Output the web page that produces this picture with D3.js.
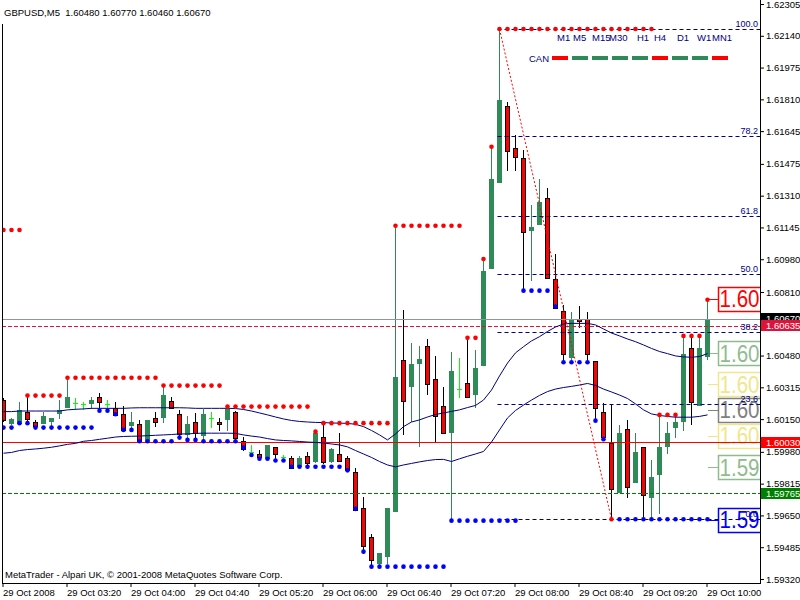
<!DOCTYPE html>
<html><head><meta charset="utf-8">
<script src="https://cdn.jsdelivr.net/npm/d3@7"></script>
<style>
html,body{margin:0;padding:0;background:#fff;}
svg{display:block;font-family:"Liberation Sans",Arial,sans-serif;}
</style></head><body>
<svg id="c" width="800" height="600"></svg>
<script>
// ---------- DATA ----------
const symbolTitle = "GBPUSD,M5  1.60480 1.60770 1.60460 1.60670";
const copyright = "MetaTrader - Alpari UK, \u00a9 2001-2008 MetaQuotes Software Corp.";
const tickBars = [0, 8, 16, 24, 32, 40, 48, 56, 64, 72, 80, 88];
const tickLabels = ["29 Oct 2008","29 Oct 03:20","29 Oct 04:00","29 Oct 04:40","29 Oct 05:20","29 Oct 06:00","29 Oct 06:40","29 Oct 07:20","29 Oct 08:00","29 Oct 08:40","29 Oct 09:20","29 Oct 10:00"];
const priceTicks = [1.62305,1.62140,1.61975,1.61810,1.61645,1.61475,1.61310,1.61145,1.60980,1.60810,1.60480,1.60315,1.60150,1.59980,1.59815,1.59650,1.59485,1.59320];

const open = [1.60249,1.60132,1.60129,1.60189,1.60134,1.60132,1.60142,1.60184,1.60215,1.60232,
1.60227,1.60235,1.60263,1.60227,1.60206,1.60175,1.60120,1.60125,1.60042,1.60154,
1.60163,1.60246,1.60175,1.60071,1.60134,1.60068,1.60158,1.60134,1.60151,1.60186,
1.60037,1.59981,1.59969,1.59947,1.60004,1.59955,1.59947,1.59907,1.59959,1.59931,
1.60056,1.59931,1.59969,1.59947,1.59874,1.59687,1.59537,1.59405,1.59441,1.59675,
1.60457,1.60322,1.60443,1.60530,1.60358,1.60218,1.60085,1.60306,1.60336,1.60281,
1.60431,1.60936,1.61383,1.61775,1.61559,1.61504,1.61132,1.61163,1.61296,1.60876,
1.60713,1.60474,1.60668,1.60668,1.60453,1.60186,1.60025,1.59773,1.60097,1.59825,
1.60004,1.59744,1.59864,1.60013,1.60108,1.60142,1.60518,1.60223,1.60480];
const high = [1.60260,1.60156,1.60239,1.60272,1.60146,1.60189,1.60158,1.60249,1.60365,1.60261,
1.60241,1.60267,1.60287,1.60249,1.60237,1.60218,1.60186,1.60146,1.60146,1.60186,
1.60324,1.60263,1.60198,1.60166,1.60180,1.60201,1.60189,1.60158,1.60215,1.60192,
1.60059,1.60016,1.59990,1.60016,1.60004,1.59964,1.59959,1.59959,1.59979,1.60085,
1.60129,1.60000,1.60077,1.59959,1.59895,1.59747,1.59554,1.59456,1.59690,1.61154,
1.60717,1.60547,1.60530,1.60566,1.60478,1.60316,1.60500,1.60466,1.60572,1.60509,
1.60981,1.61564,1.62175,1.61798,1.61625,1.61547,1.61262,1.61395,1.61348,1.61007,
1.60742,1.60705,1.60739,1.60705,1.60453,1.60232,1.60228,1.60120,1.60146,1.60080,
1.60004,1.59938,1.60172,1.60137,1.60172,1.60582,1.60582,1.60582,1.60770];
const low = [1.60140,1.60125,1.60129,1.60129,1.60106,1.60129,1.60116,1.60154,1.60215,1.60203,
1.60203,1.60206,1.60206,1.60206,1.60172,1.60089,1.60111,1.60033,1.60037,1.60116,
1.60134,1.60206,1.60054,1.60051,1.60051,1.60035,1.60108,1.60094,1.60094,1.60035,
1.59990,1.59981,1.59955,1.59947,1.59948,1.59944,1.59895,1.59903,1.59907,1.59929,
1.59924,1.59929,1.59931,1.59886,1.59678,1.59454,1.59384,1.59393,1.59405,1.59675,
1.60073,1.60142,1.60011,1.60281,1.60033,1.60077,1.59623,1.60263,1.60263,1.60215,
1.60431,1.60936,1.61383,1.61443,1.61443,1.60817,1.60872,1.61163,1.60884,1.60726,
1.60457,1.60461,1.60627,1.60463,1.60146,1.60046,1.59630,1.59773,1.59744,1.59825,
1.59635,1.59635,1.59661,1.59972,1.60059,1.60094,1.60125,1.60223,1.60460];
const close = [1.60146,1.60149,1.60198,1.60151,1.60116,1.60166,1.60158,1.60198,1.60267,1.60232,
1.60227,1.60249,1.60237,1.60227,1.60172,1.60094,1.60134,1.60037,1.60146,1.60134,
1.60275,1.60206,1.60071,1.60125,1.60077,1.60177,1.60158,1.60123,1.60203,1.60054,
1.59995,1.59981,1.59955,1.60016,1.59969,1.59955,1.59895,1.59947,1.59924,1.60080,
1.59926,1.59995,1.59931,1.59886,1.59678,1.59493,1.59419,1.59454,1.59690,1.60370,
1.60246,1.60436,1.60461,1.60333,1.60166,1.60077,1.60400,1.60306,1.60263,1.60415,
1.60919,1.61397,1.61807,1.61544,1.61513,1.61123,1.61146,1.61276,1.60884,1.60726,
1.60490,1.60664,1.60661,1.60490,1.60206,1.60057,1.59786,1.60077,1.59796,1.59981,
1.59756,1.59851,1.60004,1.60080,1.60134,1.60490,1.60237,1.60518,1.60670];

// moving averages (navy lines)
const maUpper = [1.60189,1.60189,1.60192,1.60192,1.60192,1.60192,1.60192,1.60192,1.60198,1.60201,
1.60203,1.60206,1.60206,1.60206,1.60206,1.60206,1.60208,1.60209,1.60209,1.60209,
1.60209,1.60209,1.60209,1.60208,1.60206,1.60206,1.60206,1.60206,1.60206,1.60205,
1.60200,1.60192,1.60182,1.60172,1.60161,1.60151,1.60143,1.60138,1.60135,1.60133,
1.60132,1.60130,1.60129,1.60128,1.60123,1.60111,1.60091,1.60068,1.60042,1.60073,
1.60111,1.60135,1.60146,1.60161,1.60174,1.60182,1.60190,1.60198,1.60210,1.60221,
1.60249,1.60301,1.60374,1.60441,1.60494,1.60526,1.60556,1.60578,1.60605,1.60628,
1.60644,1.60647,1.60647,1.60647,1.60639,1.60618,1.60597,1.60582,1.60566,1.60552,
1.60535,1.60517,1.60501,1.60490,1.60478,1.60473,1.60471,1.60475,1.60490];
const maLower = [1.59973,1.59977,1.59987,1.59992,1.59995,1.59999,1.60004,1.60011,1.60019,1.60024,
1.60035,1.60039,1.60045,1.60051,1.60057,1.60060,1.60061,1.60062,1.60064,1.60066,
1.60068,1.60070,1.60073,1.60073,1.60076,1.60077,1.60077,1.60077,1.60077,1.60076,
1.60068,1.60062,1.60057,1.60049,1.60042,1.60039,1.60037,1.60034,1.60031,1.60029,
1.60026,1.60021,1.60016,1.60006,1.59987,1.59969,1.59951,1.59930,1.59912,1.59902,
1.59912,1.59920,1.59928,1.59935,1.59940,1.59941,1.59930,1.59944,1.59957,1.59969,
1.59982,1.60031,1.60094,1.60156,1.60195,1.60223,1.60249,1.60273,1.60293,1.60306,
1.60314,1.60320,1.60327,1.60335,1.60325,1.60306,1.60291,1.60275,1.60257,1.60229,
1.60198,1.60177,1.60169,1.60164,1.60160,1.60160,1.60160,1.60164,1.60172];

// resistance (red) and support (blue) dots, one per bar
const resistDots = [1.61132,1.61132,1.61132,1.60272,1.60272,1.60272,1.60272,1.60272,
1.60365,1.60365,1.60365,1.60365,1.60365,1.60365,1.60365,1.60365,1.60365,1.60365,1.60365,1.60365,
1.60324,1.60324,1.60324,1.60324,1.60324,1.60324,1.60324,1.60324,
1.60215,1.60215,1.60215,1.60215,1.60215,1.60215,1.60215,1.60215,1.60215,1.60215,1.60215,
1.60085,1.60129,1.60129,1.60129,1.60129,1.60129,1.60129,1.60129,1.60129,1.60129,
1.61154,1.61154,1.61154,1.61154,1.61154,1.61154,1.61154,1.61154,1.61154,
1.60572,1.60572,1.60981,1.61564,
1.62175,1.62175,1.62175,1.62175,1.62175,1.62175,1.62175,1.62175,1.62175,1.62175,
1.62175,1.62175,1.62175,1.62175,1.62175,1.62175,1.62175,1.62175,1.62175,1.62175,
1.60172,1.60172,1.60172,1.60582,1.60582,1.60582,1.60770];
const supportDots = [1.60106,1.60106,1.60129,1.60129,1.60106,1.60106,1.60106,1.60106,1.60106,1.60106,1.60106,1.60106,
1.60194,1.60194,1.60175,1.60094,1.60094,1.60035,1.60035,1.60035,1.60035,1.60035,
1.60054,1.60042,1.60042,1.60035,1.60035,1.60035,1.60035,1.60035,
1.60002,1.59964,1.59944,1.59944,1.59935,1.59935,
1.59903,1.59903,1.59903,1.59903,1.59903,1.59903,1.59903,1.59884,1.59684,1.59462,
1.59384,1.59384,1.59384,1.59384,1.59384,1.59384,1.59384,1.59384,1.59384,1.59384,
1.59623,1.59623,1.59623,1.59623,1.59623,1.59623,1.59623,1.59623,1.59623,
1.60817,1.60817,1.60817,1.60817,1.60735,1.60445,1.60445,1.60445,1.60445,1.60142,1.60046,null,
1.59630,1.59630,1.59630,1.59630,1.59630,1.59630,1.59630,1.59630,1.59630,1.59630,1.59630,1.59630];

// horizontal levels
const bidPrice = 1.60670, askLine = 1.60635, redLevel = 1.60030, greenLevel = 1.59765;
// fibonacci retracement
const fibHigh = 1.62175, fibLow = 1.59630, fibStartBar = 62, fibEndBar = 76;
const fibLevels = [0, 23.6, 38.2, 50.0, 61.8, 78.2, 100.0];
// pivot-type price labels at right (shown truncated by the price scale)
const bigLabelPrices = [1.60774, 1.60492, 1.60331, 1.60198, 1.60063, 1.59900, 1.59627];
const bigLabelColors = ["#FF0000","#8FBC8F","#F0E68C","#808080","#F0E68C","#8FBC8F","#0000FF"];
// timeframe legend
const tfLabels = ["M1","M5","M15","M30","H1","H4","D1","W1","MN1"];
const tfLabelX = [557,573,592,609,637,654,677,697,712];
const canColors = ["#FF0000","#2E8B57","#2E8B57","#2E8B57","#2E8B57","#FF0000","#2E8B57","#2E8B57","#FF0000"];

// ---------- DRAW ----------
const svg = d3.select("#c");
const W = 800, H = 600, plotR = 760, plotB = 583;
const x = d3.scaleLinear().domain([0, 88]).range([3.5, 707.5]);
const y = d3.scaleLinear().domain([1.59320, 1.62305]).range([579, 4]);
const ry = v => Math.round(y(v)) + 0.5;
const trunc2 = v => (Math.floor(v * 100 + 1e-9) / 100).toFixed(2);

svg.append("rect").attr("width", W).attr("height", H).attr("fill", "#fff");
svg.append("defs").append("clipPath").attr("id", "pc")
  .append("rect").attr("x", 2).attr("y", 0).attr("width", plotR - 2).attr("height", plotB);
const plot = svg.append("g").attr("clip-path", "url(#pc)");

// big labels boxes (behind other objects)
const bl = plot.append("g");
bigLabelPrices.forEach((p, i) => {
  const cy = y(p);
  bl.append("rect").attr("x", 718.5).attr("y", Math.round(cy - 12) + 0.5).attr("width", 70).attr("height", 24)
    .attr("fill", "#fff").attr("stroke", bigLabelColors[i]).attr("stroke-width", 1.5);
  bl.append("text").attr("x", 719.5).attr("y", cy + 8.5).attr("font-size", 23)
    .attr("textLength", 40).attr("lengthAdjust", "spacingAndGlyphs")
    .attr("fill", bigLabelColors[i]).text(trunc2(p));
  bl.append("line").attr("x1", 708).attr("x2", 718).attr("y1", ry(p)).attr("y2", ry(p))
    .attr("stroke", bigLabelColors[i]);
});

// candles
const cg = plot.append("g").attr("shape-rendering", "crispEdges");
open.forEach((o, i) => {
  const c = close[i], cx = Math.round(x(i) - 0.5) + 0.5;
  const t = c > o ? "up" : (c < o ? "down" : "doji");
  const wc = t === "up" ? "#2E8B57" : (t === "down" ? "#000000" : "#00FF00");
  cg.append("line").attr("x1", cx).attr("x2", cx).attr("y1", Math.round(y(high[i]))).attr("y2", Math.round(y(low[i])) + 1)
    .attr("stroke", wc);
  if (t === "up") {
    const yt = Math.round(y(c)), yb = Math.round(y(o));
    cg.append("rect").attr("x", cx - 2.5).attr("width", 5).attr("y", yt).attr("height", Math.max(1, yb - yt + 1))
      .attr("fill", "#2E8B57");
  } else if (t === "down") {
    const yt = Math.round(y(o)), yb = Math.round(y(c));
    cg.append("rect").attr("x", cx - 2).attr("width", 4).attr("y", yt + 0.5).attr("height", Math.max(0, yb - yt))
      .attr("fill", "#FF0000").attr("stroke", "#000");
  } else {
    cg.append("line").attr("x1", cx - 2.5).attr("x2", cx + 2.5).attr("y1", ry(o)).attr("y2", ry(o)).attr("stroke", "#00FF00");
  }
});

// horizontal levels
const hl = plot.append("g");
hl.append("line").attr("x1", 2).attr("x2", plotR).attr("y1", ry(bidPrice)).attr("y2", ry(bidPrice)).attr("stroke", "#8A9898");
hl.append("line").attr("x1", 2).attr("x2", plotR).attr("y1", ry(askLine)).attr("y2", ry(askLine)).attr("stroke", "#DC143C").attr("stroke-dasharray", "4,2");
hl.append("line").attr("x1", 2).attr("x2", plotR).attr("y1", ry(redLevel)).attr("y2", ry(redLevel)).attr("stroke", "#FF0000");
hl.append("line").attr("x1", 2).attr("x2", plotR).attr("y1", ry(greenLevel)).attr("y2", ry(greenLevel)).attr("stroke", "#008000").attr("stroke-dasharray", "4,2");

// fibonacci
const fg = plot.append("g");
fibLevels.forEach(l => {
  const p = fibLow + (fibHigh - fibLow) * l / 100;
  fg.append("line").attr("x1", x(fibStartBar) - 2).attr("x2", plotR).attr("y1", ry(p)).attr("y2", ry(p))
    .attr("stroke", "#000080").attr("stroke-dasharray", "4,3");
});

// moving averages
const line = d3.line().x((d, i) => x(i)).y(d => y(d));
plot.append("path").datum(maUpper).attr("d", line).attr("fill", "none").attr("stroke", "#000080").attr("stroke-width", 1);
plot.append("path").datum(maLower).attr("d", line).attr("fill", "none").attr("stroke", "#000080").attr("stroke-width", 1);

// trend line
plot.append("line").attr("x1", x(fibStartBar)).attr("y1", y(fibHigh)).attr("x2", x(fibEndBar)).attr("y2", y(fibLow))
  .attr("stroke", "#FF0000").attr("stroke-dasharray", "2,2");

// dots
const dg = plot.append("g");
resistDots.forEach((v, i) => { if (v != null) dg.append("circle").attr("cx", x(i)).attr("cy", y(v)).attr("r", 2.3).attr("fill", "#FF0000"); });
supportDots.forEach((v, i) => { if (v != null) dg.append("circle").attr("cx", x(i)).attr("cy", y(v)).attr("r", 2.3).attr("fill", "#0000FF"); });
dg.append("circle").attr("cx", x(fibEndBar)).attr("cy", y(fibLow)).attr("r", 2.3).attr("fill", "#FF0000");

// fib labels
fibLevels.forEach(l => {
  const p = fibLow + (fibHigh - fibLow) * l / 100;
  plot.append("text").attr("x", 758).attr("y", y(p) - 2).attr("text-anchor", "end").attr("font-size", 9)
    .attr("fill", "#000080").text(l.toFixed(1));
});

// timeframe legend
const lg = svg.append("g").attr("font-size", 9.5).attr("fill", "#000080");
tfLabels.forEach((t, i) => lg.append("text").attr("x", tfLabelX[i]).attr("y", 41).text(t));
lg.append("text").attr("x", 529).attr("y", 62).text("CAN");
canColors.forEach((c, i) => svg.append("rect").attr("x", 552 + i * 20).attr("y", 56).attr("width", 16).attr("height", 4).attr("fill", c));

// frame lines
svg.append("line").attr("x1", plotR + 0.5).attr("x2", plotR + 0.5).attr("y1", 0).attr("y2", plotB + 1).attr("stroke", "#000");
svg.append("line").attr("x1", 2).attr("x2", plotR + 1).attr("y1", plotB + 0.5).attr("y2", plotB + 0.5).attr("stroke", "#000");
svg.append("line").attr("x1", 2.5).attr("x2", 2.5).attr("y1", 24).attr("y2", plotB).attr("stroke", "#000");

// price axis
const yAxis = d3.axisRight(y).tickValues(priceTicks).tickSize(4).tickSizeOuter(0).tickFormat(d3.format(".5f"));
const ya = svg.append("g").attr("transform", `translate(${plotR},0)`).call(yAxis);
ya.select(".domain").remove();
ya.selectAll("text").attr("font-size", 9.5).attr("font-family", "Liberation Sans, Arial, sans-serif").attr("fill", "#000").attr("x", 6);
ya.selectAll("line").attr("stroke", "#000");

// price boxes on axis
const boxes = [[bidPrice, "#000000"], [askLine, "#DC143C"], [redLevel, "#FF0000"], [greenLevel, "#008000"]];
boxes.forEach(([p, col]) => {
  const cy = y(p);
  svg.append("rect").attr("x", 761).attr("y", Math.round(cy - 5.5)).attr("width", 39).attr("height", 11).attr("fill", col);
  svg.append("text").attr("x", 766).attr("y", cy + 3.5).attr("font-size", 9.5).attr("fill", "#fff").text(p.toFixed(5));
});

// time axis
const xAxis = d3.axisBottom(x).tickValues(tickBars).tickSize(4).tickSizeOuter(0)
  .tickFormat((d, i) => tickLabels[i]);
const xa = svg.append("g").attr("transform", `translate(-1,${plotB})`).call(xAxis);
xa.select(".domain").remove();
xa.selectAll("text").attr("font-size", 9.5).attr("font-family", "Liberation Sans, Arial, sans-serif")
  .attr("text-anchor", "start").attr("x", 0).attr("fill", "#000").attr("y", 6).attr("dy", "0.71em");
xa.selectAll("line").attr("stroke", "#000");

// title & copyright
svg.append("text").attr("x", 4).attr("y", 16).attr("font-size", 9.5).attr("fill", "#000").style("white-space", "pre").text(symbolTitle);
svg.append("text").attr("x", 5).attr("y", 578).attr("font-size", 9.5).attr("fill", "#000").text(copyright);
</script>
</body></html>
